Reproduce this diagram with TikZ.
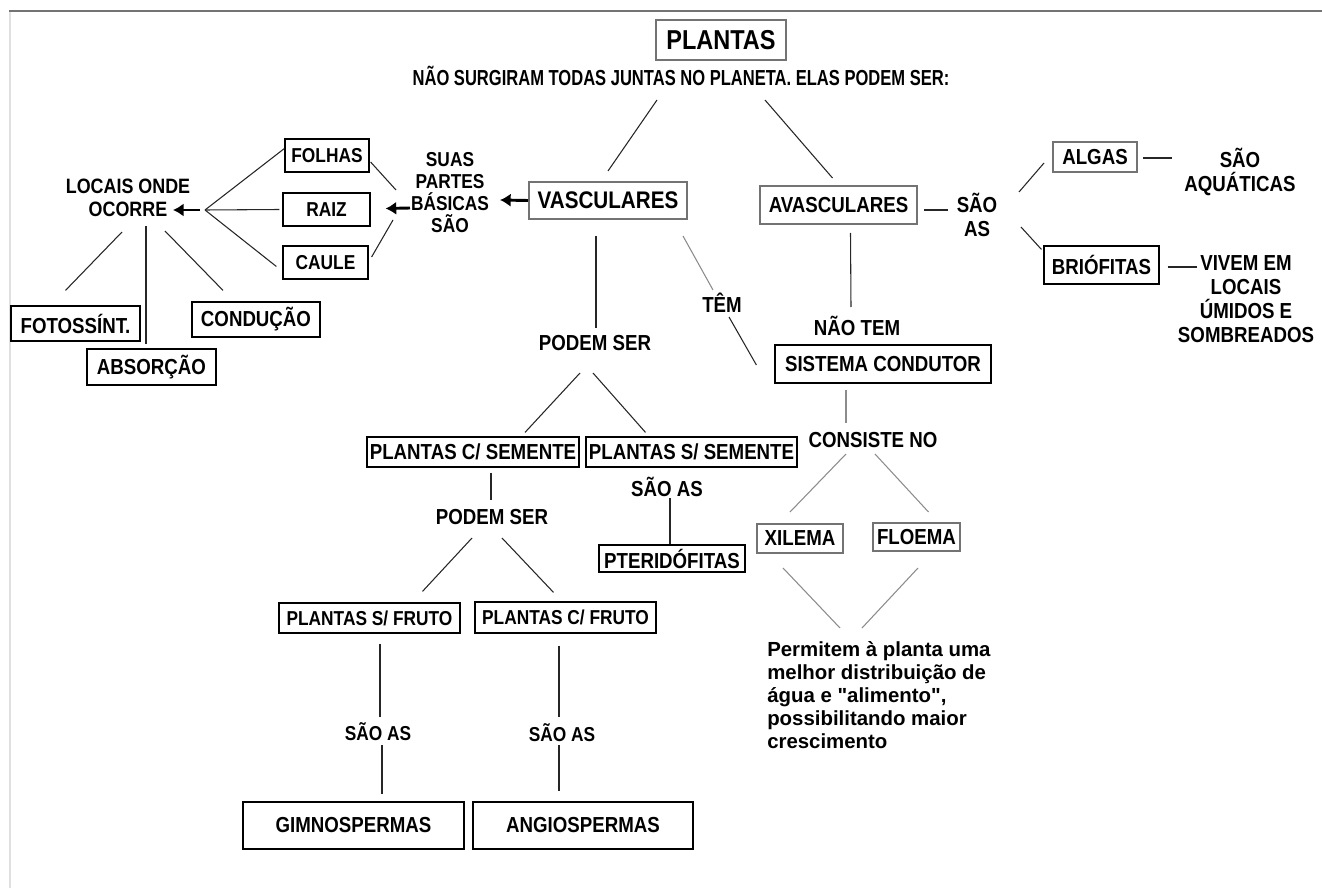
\documentclass[tikz,border=0pt]{standalone}
\usepackage{fontspec}
\newfontfamily\mapfont{Liberation Sans}[Ligatures=TeXOff, FakeStretch=0.86]
\newfontfamily\notefont{Liberation Sans}[Ligatures=TeXOff]
\usetikzlibrary{calc,arrows.meta}

\begin{document}
\begin{tikzpicture}[x=0.75pt, y=-0.75pt,
	word/.style={inner sep=0pt, align=center, font=\mapfont\bfseries\fontsize{16.3}{18}\selectfont},
	box/.style={draw=black, line width=0.9pt, inner sep=0pt, font=\mapfont\bfseries\fontsize{16.3}{18}\selectfont},
	shade box/.style={box, draw=black!55, line width=1.5pt},
	dims/.style 2 args={minimum width=#1*0.75pt, minimum height=#2*0.75pt},
	small/.style={font=\mapfont\bfseries\fontsize{15.1}{18}\selectfont},
	link/.style={black!85, line width=0.8pt},
	faint link/.style={black!45, line width=0.8pt},
	push/.style={line width=2.2pt, -{Latex[length=8pt,width=10pt]}}]
	\useasboundingbox (0,0) rectangle (1322,888);

	% Draw the frame of the page
	\draw[black!55, line width=1.6pt] (9,11) -- (1322,11);
	\draw[black!12, line width=1.2pt] (10,12) -- (10,888);

	% Top of the map
	\node[shade box, dims={130}{40}, font=\mapfont\bfseries\fontsize{20.5}{22}\selectfont] (plantas) at (721,40) {PLANTAS};
	\node[word] (surgiram) at (681,76) {\scalebox{0.885}[1]{NÃO SURGIRAM TODAS JUNTAS NO PLANETA. ELAS PODEM SER:}};
	\node[shade box, dims={158}{37}, font=\mapfont\bfseries\fontsize{18}{20}\selectfont] (vasc) at (608,200.5) {VASCULARES};
	\node[shade box, dims={157}{38}] (avasc) at (838.5,205) {AVASCULARES};

	% Parts of the plant and what they do
	\node[word, font=\mapfont\bfseries\fontsize{15.1}{16.5}\selectfont] (suas) at (450,193) {SUAS\\PARTES\\BÁSICAS\\SÃO};
	\node[box, small, dims={84}{33}] (folhas) at (327,155.5) {FOLHAS};
	\node[box, small, dims={87}{33}] (raiz) at (326.5,209.5) {RAIZ};
	\node[box, small, dims={85}{33}] (caule) at (325.5,262.5) {CAULE};
	\node[word, font=\mapfont\bfseries\fontsize{15.6}{17.25}\selectfont] (locais) at (128,198) {LOCAIS ONDE\\OCORRE};
	\node[box, dims={129}{35}] (fotos) at (75.5,323.5) {FOTOSSÍNT.};
	\node[box, dims={129}{36}] (absor) at (151.5,367) {ABSORÇÃO};
	\node[box, dims={128}{35}] (condu) at (256,319.5) {CONDUÇÃO};
	\coordinate (hub) at ($(locais)+(77,12)$);

	% Avascular side
	\node[word] (saoas1) at (977,215) {SÃO\\AS};
	\node[shade box, dims={84}{30}] (algas) at (1095,157) {ALGAS};
	\node[word] (aquat) at (1240,172) {SÃO\\AQUÁTICAS};
	\node[box, dims={115}{38}] (brio) at (1101.5,265) {BRIÓFITAS};
	\node[word] (vivem) at (1246,299) {VIVEM EM\\LOCAIS\\ÚMIDOS E\\SOMBREADOS};
	\node[word] (naotem) at (857,326) {NÃO TEM};
	\node[box, dims={216}{38}] (sistema) at (883,364) {SISTEMA CONDUTOR};
	\node[word] (tem) at (722,303) {TÊM};
	\node[word] (consiste) at (873,440) {CONSISTE NO};
	\node[shade box, dims={86}{29}] (xilema) at (800,538.5) {XILEMA};
	\node[shade box, dims={87}{28}] (floema) at (916.5,537) {FLOEMA};
	\node[word, align=left, anchor=north west, font=\notefont\bfseries\fontsize{15.3}{17.25}\selectfont] (permitem) at (767,641)
		{Permitem à planta uma\\melhor distribuição de\\água e "alimento",\\possibilitando maior\\crescimento};

	% Vascular side
	\node[word] (podem1) at (595,343) {PODEM SER};
	\node[box, dims={212}{30}] (csem) at (473,452) {PLANTAS C/ SEMENTE};
	\node[box, dims={211}{30}] (ssem) at (691.5,452) {PLANTAS S/ SEMENTE};
	\node[word] (saoas2) at (667,487) {SÃO AS};
	\node[box, dims={146}{27}] (pteri) at (672,558.5) {PTERIDÓFITAS};
	\node[word] (podem2) at (492,517) {PODEM SER};
	\node[box, small, dims={181}{30}] (sfruto) at (369.5,618) {PLANTAS S/ FRUTO};
	\node[box, small, dims={181}{31}] (cfruto) at (565.5,617.5) {PLANTAS C/ FRUTO};
	\node[word, small] (saoas3) at (378,732) {SÃO AS};
	\node[word, small] (saoas4) at (562,733) {SÃO AS};
	\node[box, dims={221}{47}] (gimno) at (353.5,825.5) {GIMNOSPERMAS};
	\node[box, dims={220}{47}] (angio) at (583,825.5) {ANGIOSPERMAS};

	% Connect the top
	\draw[link] ($(surgiram)+(-24,24)$) -- ($(vasc.north)+(0,-10)$);
	\draw[link] ($(surgiram)+(84,24)$) -- ($(avasc.north)+(-6,-7)$);

	% Parts and places
	\draw[push] (vasc.west) -- ($(suas)+(50,7)$);
	\draw[push] ($(suas)+(-40,15)$) -- ($(raiz.east)+(15,-1)$);
	\draw[link] ($(suas)+(-54,-3)$) -- ($(folhas.east)+(1,6.5)$);
	\draw[link] ($(suas)+(-57,27)$) -- ($(caule.east)+(3,-5.5)$);
	\draw[link] (hub) -- ($(folhas.west)+(0,-7)$);
	\draw[link] (hub) -- ($(raiz.west)+(-3,0)$);
	\draw[link] (hub) -- ($(caule.west)+(-6,4)$);
	\draw[push] ($(hub)+(-5,0)$) -- ($(locais)+(45,12)$);
	\draw[link] ($(locais)+(-6,34)$) -- ($(fotos.north)+(-10,-15)$);
	\draw[link] ($(locais)+(18,28)$) -- ($(absor.north)+(-5.5,-4)$);
	\draw[link] ($(locais)+(37,33)$) -- ($(condu.north)+(-33,-11)$);

	% Vascular branch
	\draw[link] ($(vasc.south)+(-12,16)$) -- ($(podem1)+(1,-15)$);
	\draw[faint link] ($(vasc.south east)+(-5,16)$) -- ($(tem)+(-9,-13)$);
	\draw[link] ($(tem)+(7,14)$) -- ($(sistema.west)+(-18,1)$);
	\draw[link] ($(podem1)+(-15,30)$) -- ($(csem.north)+(52,-4)$);
	\draw[link] ($(podem1)+(-2,30)$) -- ($(ssem.north)+(-46,-4)$);
	\draw[link] ($(csem.south)+(18,5)$) -- ($(podem2)+(-1,-17)$);
	\draw[link] ($(saoas2)+(3,11)$) -- ($(pteri.north)+(-2,0)$);
	\draw[link] ($(podem2)+(-20,21)$) -- ($(sfruto.north)+(53,-11)$);
	\draw[link] ($(podem2)+(10,21)$) -- ($(cfruto.north)+(-12,-9)$);
	\draw[link] ($(sfruto.south)+(10.5,10)$) -- ($(saoas3)+(2,-15)$);
	\draw[link] ($(saoas3)+(4,13)$) -- ($(gimno.north)+(28.5,-7)$);
	\draw[link] ($(cfruto.south)+(-6.5,12)$) -- ($(saoas4)+(-3,-16)$);
	\draw[link] ($(saoas4)+(-3,12)$) -- ($(angio.north)+(-24,-10)$);

	% Avascular branch
	\draw[link] ($(avasc.south)+(12,8)$) -- ($(naotem)+(-6,-19)$);
	\draw[link] ($(avasc.east)+(6,5)$) -- ($(saoas1)+(-29,-5)$);
	\draw[link] ($(saoas1)+(42,-23)$) -- ($(algas.west)+(-8,6)$);
	\draw[link] ($(saoas1)+(44,12)$) -- ($(brio.north west)+(-2,4)$);
	\draw[link] ($(algas.east)+(5,1)$) -- ($(aquat)+(-68,-14)$);
	\draw[link] ($(brio.east)+(8,2)$) -- ($(vivem)+(-49,-32)$);

	% Conducting system
	\draw[faint link] ($(sistema.south)+(-37,6)$) -- ($(consiste)+(-27,-17)$);
	\draw[faint link] ($(consiste)+(-27,14)$) -- ($(xilema.north)+(-10,-11)$);
	\draw[faint link] ($(consiste)+(2,14)$) -- ($(floema.north)+(12,-10)$);
	\draw[faint link] ($(xilema.south)+(-17,14)$) -- ($(permitem.north west)+(73,-13)$);
	\draw[faint link] ($(floema.south)+(1.5,16)$) -- ($(permitem.north west)+(95,-13)$);
\end{tikzpicture}
\end{document}
